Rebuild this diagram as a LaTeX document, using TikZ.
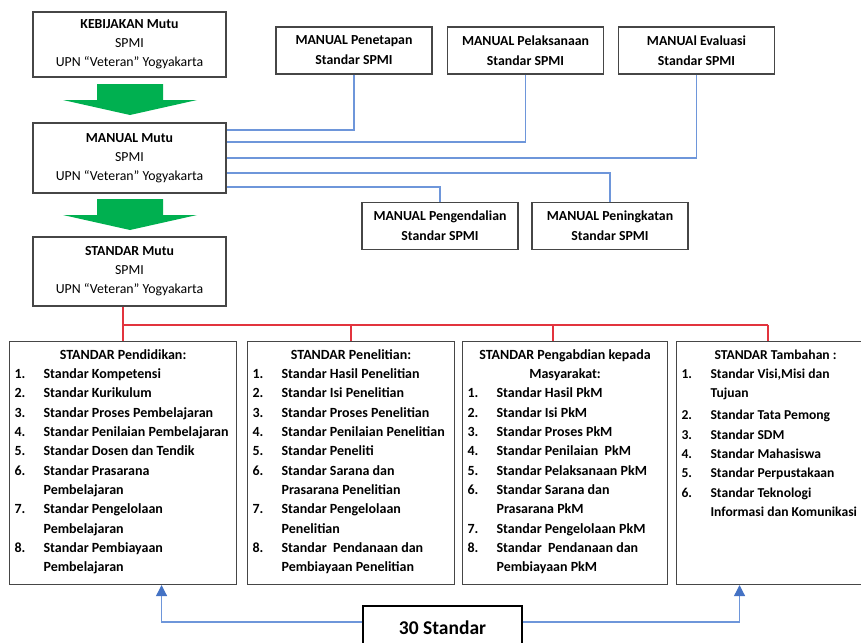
\documentclass[tikz,border=0pt]{standalone}
\usepackage{fontspec}
\setmainfont{Carlito}
\usetikzlibrary{arrows.meta}

\definecolor{boxgray}{RGB}{70,70,70}
\definecolor{linkblue}{RGB}{110,150,218}
\definecolor{tipblue}{RGB}{68,114,196}
\definecolor{busred}{RGB}{226,52,62}
\definecolor{arrowgreen}{RGB}{0,176,80}

\newcommand{\itm}[1]{\par\hangindent=29pt\hangafter=1\noindent\makebox[29pt][l]{#1}}

\begin{document}
\begin{tikzpicture}[
  x=1pt, y=-1pt,
  font=\fontsize{13.8}{19}\selectfont,
  mutubox/.style={draw=boxgray, line width=1.1pt, minimum width=193pt, align=center, inner sep=0pt},
  manualbox/.style={draw=boxgray, line width=1.1pt, minimum width=156pt, minimum height=47pt,
    align=center, inner sep=0pt, font=\fontsize{13.8}{20}\selectfont\bfseries},
  listbox/.style={draw=boxgray, line width=1.1pt, anchor=north west, inner xsep=5pt, inner ysep=8pt,
    font=\fontsize{14}{19.3}\selectfont\bfseries},
  totalbox/.style={draw=black, line width=1.4pt, minimum width=159pt, minimum height=44pt,
    font=\fontsize{19.5}{22}\selectfont\bfseries},
  bluelink/.style={draw=linkblue, line width=1.2pt},
  redlink/.style={draw=busred, line width=1.2pt},
  tiplink/.style={bluelink, -{Triangle[width=11pt,length=11pt,color=tipblue]}}
]
  \useasboundingbox (0,0) rectangle (861,642);
  \clip (0,0) rectangle (861,642);

  \node[mutubox, minimum height=65pt] (kebijakan) at (129.5,44.5)
    {\textbf{KEBIJAKAN Mutu}\\SPMI\\UPN “Veteran” Yogyakarta};
  \node[mutubox, minimum height=70pt] (manual) at (129.5,158)
    {\textbf{MANUAL Mutu}\\SPMI\\UPN “Veteran” Yogyakarta};
  \node[mutubox, minimum height=69pt] (standar) at (129.5,271.5)
    {\textbf{STANDAR Mutu}\\SPMI\\UPN “Veteran” Yogyakarta};

  \foreach \t in {84,199}
    \fill[arrowgreen] (97,\t) -- (163,\t) -- (163,\t+16) -- (197,\t+16) -- (130,\t+31)
      -- (63,\t+16) -- (97,\t+16) -- cycle;

  \node[manualbox] (penetapan) at (354,50.5) {MANUAL Penetapan\\Standar SPMI};
  \node[manualbox] (pelaksanaan) at (525.5,50.5) {MANUAL Pelaksanaan\\Standar SPMI};
  \node[manualbox] (evaluasi) at (696.5,50.5) {MANUAl Evaluasi\\Standar SPMI};
  \node[manualbox] (pengendalian) at (440,226) {MANUAL Pengendalian\\Standar SPMI};
  \node[manualbox] (peningkatan) at (610,226) {MANUAL Peningkatan\\Standar SPMI};

  \draw[bluelink] (penetapan) |- ([yshift=28pt]manual.east);
  \draw[bluelink] (pelaksanaan) |- ([yshift=16pt]manual.east);
  \draw[bluelink] (evaluasi) |- (manual.east);
  \draw[bluelink] (peningkatan) |- ([yshift=-15pt]manual.east);
  \draw[bluelink] (pengendalian) |- ([yshift=-29pt]manual.east);

  \node[listbox] (pendidikan) at (9,341) {\parbox[t][227pt][t]{217pt}{%
    \centering STANDAR Pendidikan:\par\raggedright
    \itm{1.}Standar Kompetensi
    \itm{2.}Standar Kurikulum
    \itm{3.}Standar Proses Pembelajaran
    \itm{4.}Standar Penilaian Pembelajaran
    \itm{5.}Standar Dosen dan Tendik
    \itm{6.}Standar Prasarana\newline Pembelajaran
    \itm{7.}Standar Pengelolaan\newline Pembelajaran
    \itm{8.}Standar Pembiayaan\newline Pembelajaran}};
  \node[listbox] (penelitian) at (247,341) {\parbox[t][227pt][t]{197pt}{%
    \centering STANDAR Penelitian:\par\raggedright
    \itm{1.}Standar Hasil Penelitian
    \itm{2.}Standar Isi Penelitian
    \itm{3.}Standar Proses Penelitian
    \itm{4.}Standar Penilaian Penelitian
    \itm{5.}Standar Peneliti
    \itm{6.}Standar Sarana dan\newline Prasarana Penelitian
    \itm{7.}Standar Pengelolaan\newline Penelitian
    \itm{8.}Standar\ \ Pendanaan dan\newline Pembiayaan Penelitian}};
  \node[listbox] (pengabdian) at (462,341) {\parbox[t][227pt][t]{195pt}{%
    \centering STANDAR Pengabdian kepada\\Masyarakat:\par\raggedright
    \itm{1.}Standar Hasil PkM
    \itm{2.}Standar Isi PkM
    \itm{3.}Standar Proses PkM
    \itm{4.}Standar Penilaian\ \ PkM
    \itm{5.}Standar Pelaksanaan PkM
    \itm{6.}Standar Sarana dan\newline Prasarana PkM
    \itm{7.}Standar Pengelolaan PkM
    \itm{8.}Standar\ \ Pendanaan dan\newline Pembiayaan PkM}};
  \node[listbox, font=\fontsize{13.6}{19.3}\selectfont\bfseries] (tambahan) at (676,341)
    {\parbox[t][227pt][t]{188pt}{%
    \centering STANDAR Tambahan :\par\raggedright
    \itm{1.}Standar Visi,Misi dan\newline Tujuan\par\vspace{3pt}
    \itm{2.}Standar Tata Pemong
    \itm{3.}Standar SDM
    \itm{4.}Standar Mahasiswa
    \itm{5.}Standar Perpustakaan
    \itm{6.}Standar Teknologi\newline Informasi dan Komunikasi}};

  \coordinate (busL) at (122,325);
  \coordinate (busR) at (768,325);
  \draw[redlink] (pendidikan.north) -- (pendidikan.north |- standar.south);
  \draw[redlink] (busL) -- (busR);
  \draw[redlink] (penelitian.north) -- (penelitian.north |- busL);
  \draw[redlink] ([xshift=-12pt]pengabdian.north) -- ([xshift=-12pt]pengabdian.north |- busL);
  \draw[redlink] (busR) -- (busR |- tambahan.north);

  \node[totalbox] (jumlah) at (442.5,628) {30 Standar};
  \draw[tiplink] ([yshift=6pt]jumlah.west) -| ([xshift=38.5pt]pendidikan.south);
  \draw[tiplink] ([yshift=6pt]jumlah.east) -| ([xshift=-36pt]tambahan.south);
\end{tikzpicture}
\end{document}
